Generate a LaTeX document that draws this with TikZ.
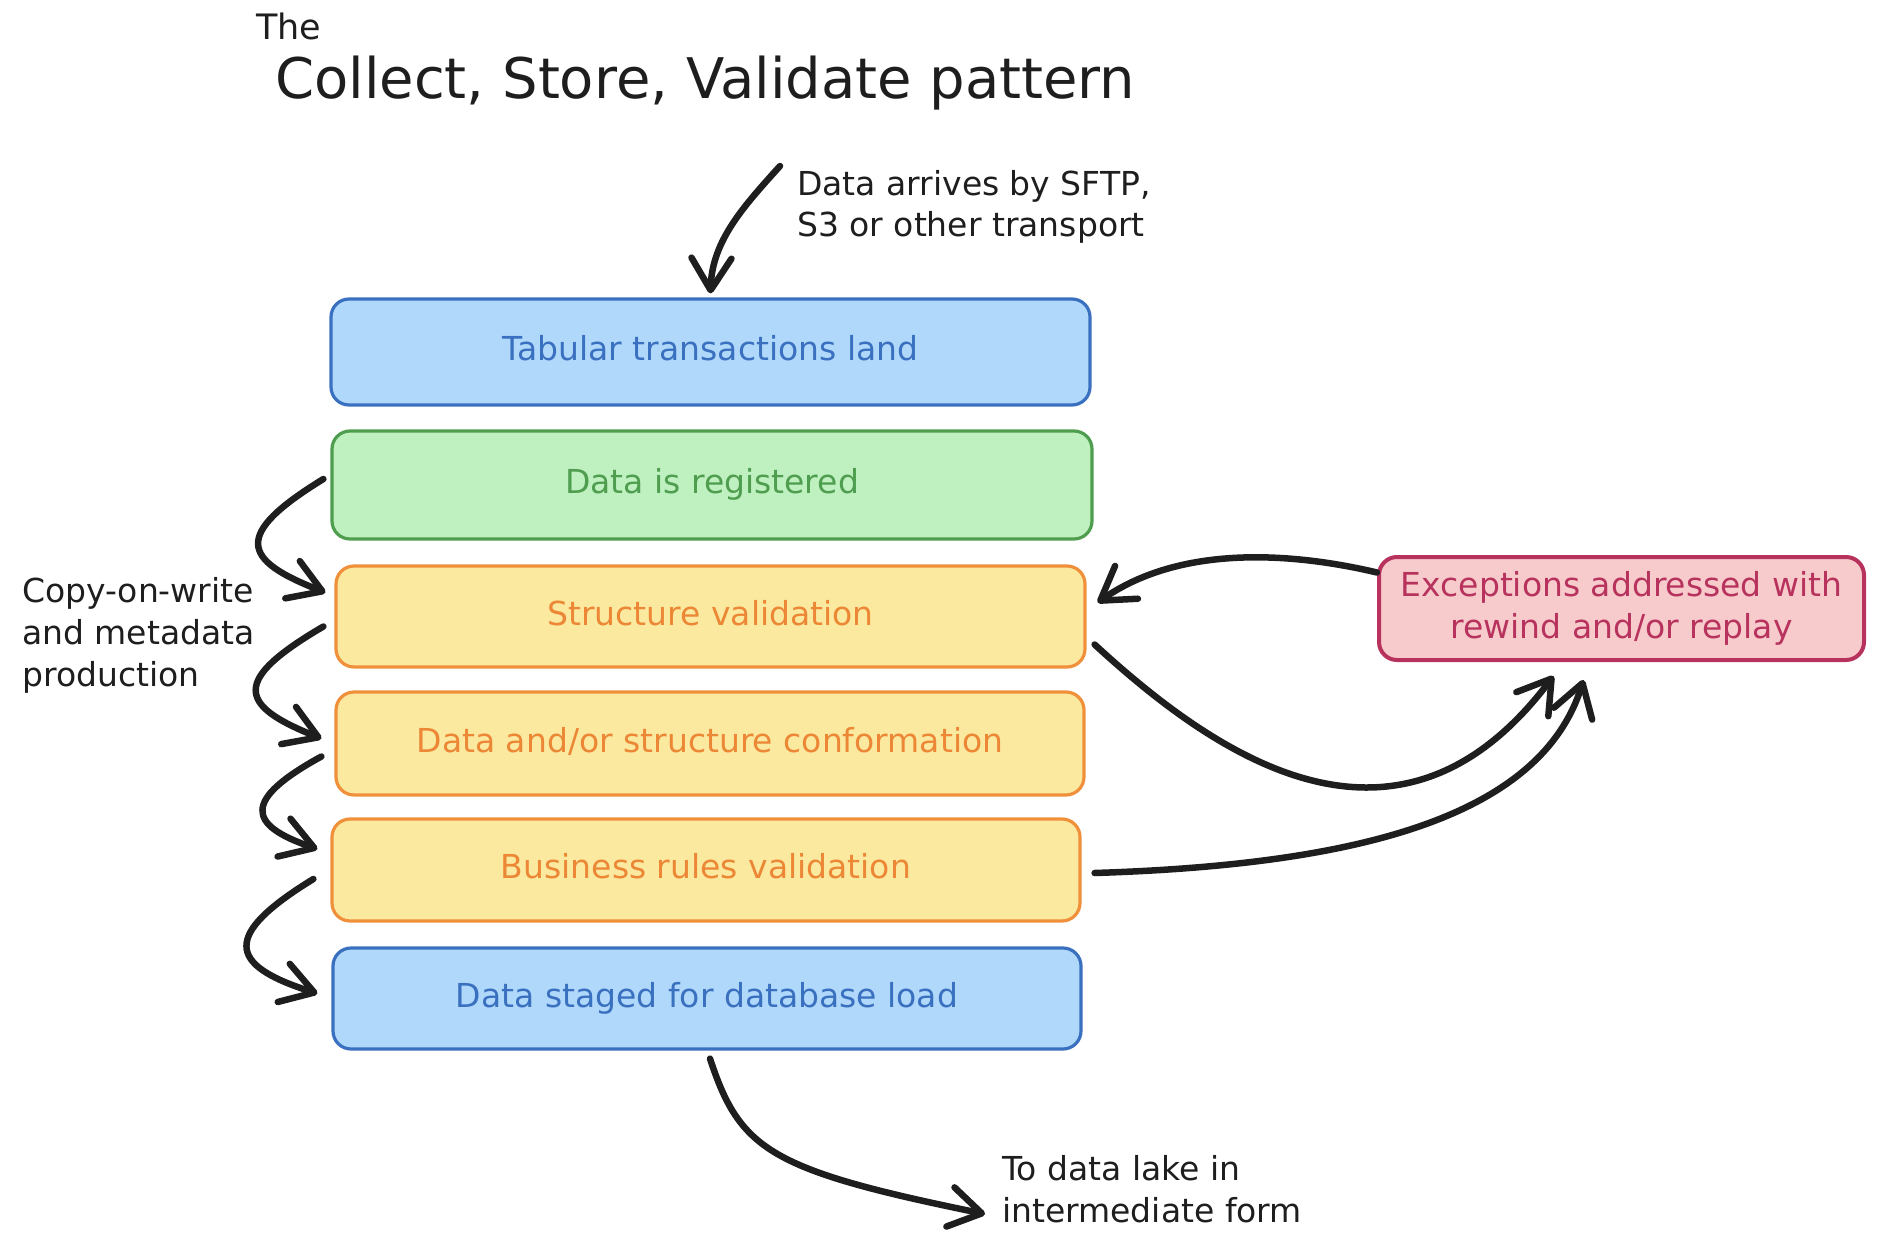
\documentclass[tikz,border=0pt]{standalone}
\usepackage{fontspec}
\setmainfont{DejaVu Sans}
\usetikzlibrary{arrows.meta}
\definecolor{ink}{HTML}{1E1E1E}
\definecolor{bluefill}{HTML}{B0D8FA}
\definecolor{bluedraw}{HTML}{3A70C0}
\definecolor{greenfill}{HTML}{BFF0C0}
\definecolor{greendraw}{HTML}{4F9E4F}
\definecolor{yellowfill}{HTML}{FBE9A0}
\definecolor{orangedraw}{HTML}{F0903A}
\definecolor{orangetext}{HTML}{EC8736}
\definecolor{pinkfill}{HTML}{F7CBCB}
\definecolor{pinkdraw}{HTML}{B8325E}
\newcommand{\bodyfont}{\fontsize{33}{42}\selectfont}
\begin{document}
\begin{tikzpicture}[x=1pt,y=-1pt,
  stage/.style={draw, line width=3.2pt, rounded corners=18pt, inner sep=0pt,
    font=\bodyfont, text height=24pt, text depth=7pt},
  bluebox/.style={stage, fill=bluefill, draw=bluedraw, text=bluedraw},
  greenbox/.style={stage, fill=greenfill, draw=greendraw, text=greendraw},
  yellowbox/.style={stage, fill=yellowfill, draw=orangedraw, text=orangetext},
  pinkbox/.style={stage, line width=4pt, fill=pinkfill, draw=pinkdraw, text=pinkdraw, align=center, text height=, text depth=},
  note/.style={font=\bodyfont, text=ink, inner sep=0pt, align=left},
  conn/.style={draw=ink, line width=6.5pt, line cap=round, line join=round,
    -{Straight Barb[length=32pt, width=40pt, round]}}]
\useasboundingbox (0,0) rectangle (1888,1252);

% titles
\node[font=\fontsize{35}{40}\selectfont, text=ink, anchor=base west, inner sep=0pt] (the) at (256,40) {The};
\node[font=\fontsize{56}{64}\selectfont, text=ink, anchor=base west, inner sep=0pt] (title) at (275,99) {Collect, Store, Validate pattern};

% stages
\node[bluebox, minimum width=759, minimum height=106] (b1) at (710.5,352) {Tabular transactions land};
\node[greenbox, minimum width=760, minimum height=108] (b2) at (712,485) {Data is registered};
\node[yellowbox, minimum width=749, minimum height=101] (b3) at (710.5,616.5) {Structure validation};
\node[yellowbox, minimum width=748, minimum height=103] (b4) at (710,743.5) {Data and/or structure conformation};
\node[yellowbox, minimum width=748, minimum height=102] (b5) at (706,870) {Business rules validation};
\node[bluebox, minimum width=748, minimum height=101] (b6) at (707,998.5) {Data staged for database load};
\node[pinkbox, minimum width=485, minimum height=103] (ex) at (1621.5,608.5) {Exceptions addressed with\\rewind and/or replay};

% notes (base anchor = baseline of the last line)
\node[note, anchor=base west] (arrive) at (797,237) {Data arrives by SFTP,\\S3 or other transport};
\node[note, anchor=base west] (cow) at (22,686) {Copy-on-write\\and metadata\\production};
\node[note, anchor=base west] (lake) at (1002,1222) {To data lake in\\intermediate form};

% free ends
\coordinate (src) at (780,166);
\coordinate (dst) at (985,1214);

% connectors
\draw[conn] (src) .. controls (745,205) and (712,240) .. ([yshift=4pt]b1.north);
\draw[conn] ([xshift=-7pt,yshift=6pt]b2.west) .. controls (232,535) and (242,560) .. ([xshift=-9pt,yshift=24pt]b3.west);
\draw[conn] ([xshift=-11pt,yshift=-10pt]b3.west) .. controls (232,680) and (237,705) .. ([xshift=-13pt,yshift=5pt]b4.west);
\draw[conn] ([xshift=-13pt,yshift=-13pt]b4.west) .. controls (242,800) and (247,825) .. ([xshift=-13pt,yshift=21pt]b5.west);
\draw[conn] ([xshift=-17pt,yshift=-9pt]b5.west) .. controls (222,935) and (227,965) .. ([xshift=-14pt,yshift=5pt]b6.west);

\draw[conn] ([yshift=36pt]ex.west) .. controls (1290,552) and (1180,545) .. ([xshift=11pt,yshift=14pt]b3.east);
\draw[conn] ([xshift=8pt,yshift=-28pt]b3.east) .. controls (1220,760) and (1400,880) .. ([xshift=-68pt,yshift=-14pt]ex.south);
\draw[conn] ([xshift=13pt,yshift=-3pt]b5.east) .. controls (1350,865) and (1540,820) .. ([xshift=-38pt,yshift=-18pt]ex.south);
\draw[conn] ([xshift=3pt,yshift=-8pt]b6.south) .. controls (740,1150) and (770,1170) .. (dst);
\end{tikzpicture}
\end{document}
